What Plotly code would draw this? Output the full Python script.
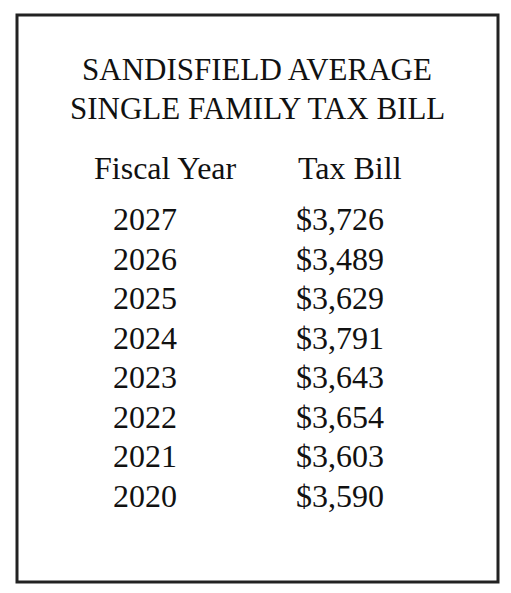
import plotly.graph_objects as go

title_lines = ["SANDISFIELD AVERAGE", "SINGLE FAMILY TAX BILL"]
headers = ["Fiscal Year", "Tax Bill"]
years = ["2027", "2026", "2025", "2024", "2023", "2022", "2021", "2020"]
tax_bills = [3726, 3489, 3629, 3791, 3643, 3654, 3603, 3590]

FONT = "Liberation Serif"
OFF = 8  # page body margin
W, H = 511 - OFF, 593 - OFF
rows = list(range(len(years)))
fig = go.Figure()
fig.add_trace(go.Scatter(x=[145 - OFF] * len(years), y=rows, mode="text", text=years,
                         textposition="middle center",
                         textfont=dict(family=FONT, size=32, color="#111")))
fig.add_trace(go.Scatter(x=[296 - OFF] * len(years), y=rows, mode="text",
                         text=[f"${v:,}" for v in tax_bills],
                         textposition="middle right",
                         textfont=dict(family=FONT, size=32, color="#111")))

for i, t in enumerate(title_lines):
    fig.add_annotation(x=257 - OFF, y=-3.85 + i * 0.97, text=t, showarrow=False,
                       xanchor="center", yanchor="middle",
                       font=dict(family=FONT, size=31, color="#111"))
fig.add_annotation(x=165 - OFF, y=-1.37, text=headers[0], showarrow=False,
                   xanchor="center", font=dict(family=FONT, size=32, color="#111"))
fig.add_annotation(x=296 - OFF, y=-1.37, text=headers[1], showarrow=False,
                   xanchor="left", font=dict(family=FONT, size=32, color="#111"))

fig.add_shape(type="rect", xref="paper", yref="paper",
              x0=(17 - OFF) / W, x1=(498 - OFF) / W,
              y0=1 - (15 - OFF) / H, y1=1 - (582 - OFF) / H,
              line=dict(color="#222", width=3))

top = 222 - OFF
fig.update_layout(width=W, height=H, margin=dict(l=0, r=0, t=0, b=0),
                  plot_bgcolor="white", paper_bgcolor="white", showlegend=False,
                  xaxis=dict(range=[0, W], visible=False, fixedrange=True),
                  yaxis=dict(range=[(H - top) / 39.5, -top / 39.5], visible=False,
                             fixedrange=True))
fig.write_html("out.html")
